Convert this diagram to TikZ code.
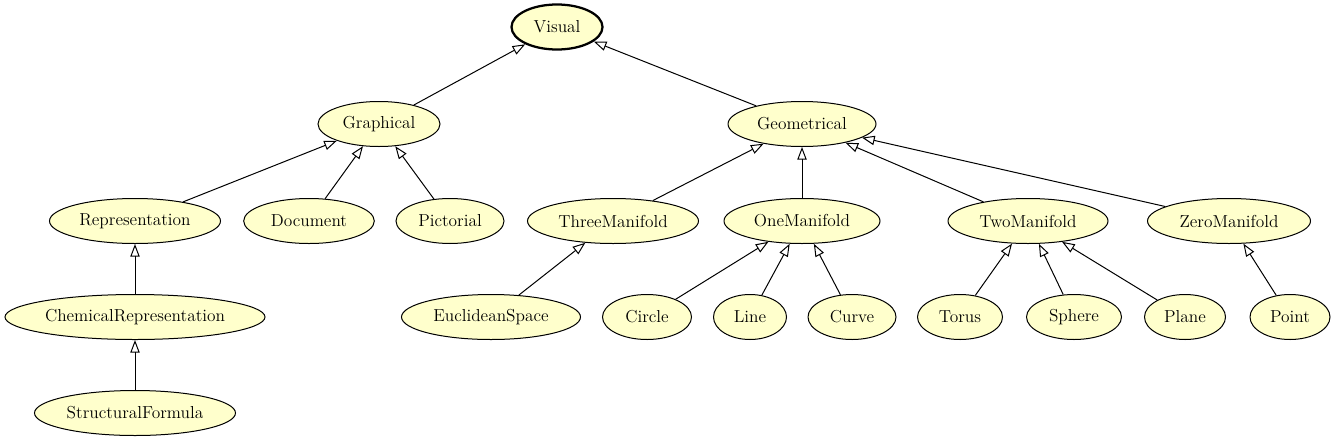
\documentclass[tikz,border=0pt]{standalone}
\usetikzlibrary{shapes.geometric}
\usetikzlibrary{arrows.meta}
\definecolor{clsfill}{RGB}{255,255,204}

\begin{document}
\begin{tikzpicture}[x=0.75pt,y=0.75pt,yscale=-1,xscale=1,
  cls/.style={ellipse, draw, line width=0.75pt, fill=clsfill, inner sep=0pt,
    minimum height=33.75pt, font=\rmfamily\fontsize{13}{16}\selectfont},
  isa/.style={line width=0.75pt, -{Triangle[open, length=9.5pt, width=7pt]}}]
\useasboundingbox (0,0) rectangle (1334,443);

% Root
\node [cls, line width=1.7pt, minimum width=68.25pt] (visual) at (557,27) {Visual};

% Second level
\node [cls, minimum width=91.5pt] (graphical) at (379,124) {Graphical};
\node [cls, minimum width=111pt] (geometrical) at (802,124) {Geometrical};

% Third level
\node [cls, minimum width=128.25pt] (representation) at (135,221) {Representation};
\node [cls, minimum width=98pt] (document) at (309,221) {Document};
\node [cls, minimum width=81pt] (pictorial) at (450,221) {Pictorial};
\node [cls, minimum width=128.25pt] (threemanifold) at (613,221) {ThreeManifold};
\node [cls, minimum width=117pt] (onemanifold) at (802,221) {OneManifold};
\node [cls, minimum width=120pt] (twomanifold) at (1028,221) {TwoManifold};
\node [cls, minimum width=122.25pt] (zeromanifold) at (1229,221) {ZeroManifold};

% Fourth level
\node [cls, minimum width=195pt] (chemicalrep) at (135,317) {ChemicalRepresentation};
\node [cls, minimum width=134.25pt] (euclideanspace) at (491,317) {EuclideanSpace};
\node [cls, minimum width=66.75pt] (circle) at (647,317) {Circle};
\node [cls, minimum width=54.75pt] (line) at (750,317) {Line};
\node [cls, minimum width=66pt] (curve) at (852,317) {Curve};
\node [cls, minimum width=63.75pt] (torus) at (960,317) {Torus};
\node [cls, minimum width=71.25pt] (sphere) at (1074,317) {Sphere};
\node [cls, minimum width=60.75pt] (plane) at (1185,317) {Plane};
\node [cls, minimum width=60pt] (point) at (1290,317) {Point};

% Fifth level
\node [cls, minimum width=150.75pt] (structuralformula) at (135,413) {StructuralFormula};

% Inheritance edges
\draw [isa] (graphical) -- (visual);
\draw [isa] (geometrical) -- (visual);
\draw [isa] (representation) -- (graphical);
\draw [isa] (document) -- (graphical);
\draw [isa] (pictorial) -- (graphical);
\draw [isa] (threemanifold) -- (geometrical);
\draw [isa] (onemanifold) -- (geometrical);
\draw [isa] (twomanifold) -- (geometrical);
\draw [isa] (zeromanifold) -- (geometrical);
\draw [isa] (chemicalrep) -- (representation);
\draw [isa] (structuralformula) -- (chemicalrep);
\draw [isa] (euclideanspace) -- (threemanifold);
\draw [isa] (circle) -- (onemanifold);
\draw [isa] (line) -- (onemanifold);
\draw [isa] (curve) -- (onemanifold);
\draw [isa] (torus) -- (twomanifold);
\draw [isa] (sphere) -- (twomanifold);
\draw [isa] (plane) -- (twomanifold);
\draw [isa] (point) -- (zeromanifold);
\end{tikzpicture}
\end{document}
